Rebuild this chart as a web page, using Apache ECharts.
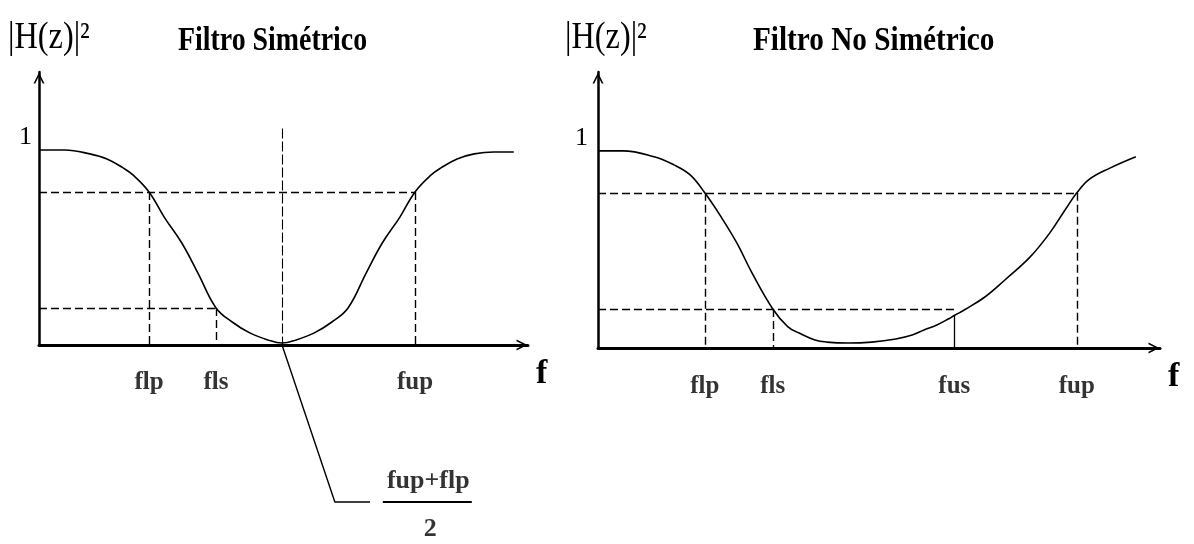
<!DOCTYPE html>
<html>
<head>
<meta charset="utf-8">
<script src="https://cdn.jsdelivr.net/npm/echarts@6/dist/echarts.min.js"></script>
<style>
  html, body { margin: 0; padding: 0; background: #fff; }
  #chart { width: 1194px; height: 544px; }
</style>
</head>
<body>
<div id="chart"></div>
<script>
// |H(f)|^2 of the symmetric band-stop filter (f in relative units 0..100)
const symF = [0, 5.3, 10.4, 13.9, 17.2, 19.2, 22.5, 25.6, 29.2, 32.5, 36.2, 39.5, 43.1, 46.8, 49.7,
              52.6, 56.3, 59.9, 63.2, 66.9, 70.2, 73.8, 76.9, 80.2, 82.2, 85.5, 89.0, 93.0, 97.1];
const symH = [1.0, 1.0, 0.98, 0.954, 0.908, 0.872, 0.785, 0.656, 0.523, 0.369, 0.19, 0.118, 0.062, 0.026, 0.01,
              0.026, 0.062, 0.118, 0.19, 0.369, 0.523, 0.656, 0.785, 0.872, 0.908, 0.954, 0.98, 0.99, 0.99];

// |H(f)|^2 of the non-symmetric band-stop filter
const asymF = [0, 4.4, 10.0, 13.5, 16.4, 19.0, 21.9, 24.7, 27.4, 31.1, 33.8, 35.8, 38.6, 40.7, 44.5, 48.7,
               53.0, 55.9, 58.0, 60.3, 62.5, 63.4, 65.3, 68.9, 72.4, 76.9, 80.4, 83.1, 85.2, 87.4, 90.9, 95.7];
const asymH = [1.0, 1.0, 0.97, 0.929, 0.878, 0.787, 0.665, 0.533, 0.381, 0.198, 0.107, 0.076, 0.041, 0.03, 0.025, 0.03,
               0.046, 0.066, 0.091, 0.117, 0.15, 0.165, 0.195, 0.26, 0.345, 0.462, 0.584, 0.70, 0.787, 0.855, 0.91, 0.97];

// band edge frequencies and their names
const symEdgeNames = ['flp', 'fls', 'fup'];
const symEdgeF = [22.5, 36.2, 76.9];
const asymEdgeNames = ['flp', 'fls', 'fus', 'fup'];
const asymEdgeF = [19.0, 31.1, 63.4, 85.2];

// passband / stopband levels [pass, stop]
const symLevels = [0.785, 0.19];
const asymLevels = [0.787, 0.198];
const asymFusH = 0.165;      // |H|^2 at fus
const centerLineTop = 1.11;  // top of the (fup+flp)/2 marker

const chart = echarts.init(document.getElementById('chart'), null, { renderer: 'canvas' });

const INK = '#000';
const SERIF = '"Liberation Serif", "DejaVu Serif", serif';
const arrowPath = 'path://M0,10 L5,0 L10,10 L8.4,10 L5,3.2 L1.6,10 Z';
const dash = { color: INK, width: 1.4, type: [8, 4] };

function seg(a, b, style) {
  return [{ coord: a, lineStyle: style }, { coord: b }];
}

const [sFlp, sFls, sFup] = symEdgeF;
const sCenter = (sFlp + sFup) / 2;
const [aFlp, aFls, aFus, aFup] = asymEdgeF;

function axesFor(idx, labelMargin, xAxisWidth) {
  return {
    x: {
      type: 'value', gridIndex: idx, min: 0, max: 100,
      axisLine: { lineStyle: { color: INK, width: xAxisWidth }, symbol: ['none', arrowPath],
                  symbolSize: [11, 15], symbolOffset: [0, -6] },
      axisTick: { show: false }, axisLabel: { show: false }, splitLine: { show: false },
      name: 'f', nameLocation: 'end', nameGap: 8,
      nameTextStyle: { fontFamily: SERIF, fontWeight: 'bold', fontSize: 34, color: INK,
                       verticalAlign: 'top', padding: [12, 0, 0, 0] }
    },
    y: {
      type: 'value', gridIndex: idx, min: 0, max: 1.4, interval: 0.2,
      axisLine: { show: true, lineStyle: { color: INK, width: 2.5 }, symbol: ['none', arrowPath],
                  symbolSize: [11, 15], symbolOffset: [0, -6] },
      axisTick: { show: false }, splitLine: { show: false },
      axisLabel: {
        margin: labelMargin, fontFamily: SERIF, fontSize: 26, color: INK,
        verticalAlign: 'bottom', lineHeight: 26,
        formatter: v => (Math.abs(v - 1) < 1e-6 ? '1' : '')
      }
    }
  };
}

const A0 = axesFor(0, 7, 3);
const A1 = axesFor(1, 10, 3);

function tickLabels(idx, names, fs, dy) {
  return {
    type: 'scatter', xAxisIndex: idx, yAxisIndex: idx, clip: false, silent: true,
    symbolSize: 1, itemStyle: { color: 'rgba(0,0,0,0)' },
    data: names.map((n, i) => ({ name: n, value: [fs[i], 0] })),
    label: {
      show: true, position: 'inside', offset: [0, dy], formatter: '{b}',
      fontFamily: SERIF, fontWeight: 'bold', fontSize: 25, color: INK
    },
    z: 5
  };
}

const option = {
  animation: false,
  backgroundColor: '#fff',
  grid: [
    { left: 39, top: 72, width: 489, height: 273 },
    { left: 598, top: 72, width: 562, height: 276 }
  ],
  xAxis: [A0.x, A1.x],
  yAxis: [A0.y, A1.y],
  graphic: [
    { type: 'text', x: 8, y: 38, scaleX: 0.85,
      style: { text: '|H(z)|²', font: '38px ' + SERIF, fill: INK, verticalAlign: 'middle' } },
    { type: 'text', x: 178, y: 41, scaleX: 0.82,
      style: { text: 'Filtro Simétrico', font: 'bold 34px ' + SERIF, fill: INK, verticalAlign: 'middle' } },
    { type: 'text', x: 565, y: 38, scaleX: 0.85,
      style: { text: '|H(z)|²', font: '38px ' + SERIF, fill: INK, verticalAlign: 'middle' } },
    { type: 'text', x: 753, y: 41, scaleX: 0.86,
      style: { text: 'Filtro No Simétrico', font: 'bold 34px ' + SERIF, fill: INK, verticalAlign: 'middle' } }
  ],
  series: [
    {
      name: 'simétrico', type: 'line', xAxisIndex: 0, yAxisIndex: 0,
      data: symF.map((f, i) => [f, symH[i]]),
      smooth: 0.4, showSymbol: false, silent: true,
      lineStyle: { color: INK, width: 1.6 },
      markLine: {
        silent: true, symbol: ['none', 'none'], label: { show: false }, lineStyle: dash,
        data: [
          seg([0, symLevels[0]], [sFup, symLevels[0]], dash),
          seg([0, symLevels[1]], [sFls, symLevels[1]], dash),
          seg([sFlp, symLevels[0]], [sFlp, 0], dash),
          seg([sFls, symLevels[1]], [sFls, 0], dash),
          seg([sFup, symLevels[0]], [sFup, 0], dash),
          seg([sCenter, centerLineTop], [sCenter, 0], { color: INK, width: 1.1, type: [10, 3] })
        ]
      }
    },
    {
      name: 'no simétrico', type: 'line', xAxisIndex: 1, yAxisIndex: 1,
      data: asymF.map((f, i) => [f, asymH[i]]),
      smooth: 0.4, showSymbol: false, silent: true,
      lineStyle: { color: INK, width: 1.6 },
      markLine: {
        silent: true, symbol: ['none', 'none'], label: { show: false }, lineStyle: dash,
        data: [
          seg([0, asymLevels[0]], [aFup, asymLevels[0]], dash),
          seg([0, asymLevels[1]], [aFus, asymLevels[1]], dash),
          seg([aFlp, asymLevels[0]], [aFlp, 0], dash),
          seg([aFls, asymLevels[1]], [aFls, 0], dash),
          seg([aFup, asymLevels[0]], [aFup, 0], dash),
          seg([aFus, asymFusH], [aFus, 0], { color: INK, width: 1.3, type: 'solid' })
        ]
      }
    },
    // leader from the centre frequency to its label
    {
      type: 'line', xAxisIndex: 0, yAxisIndex: 0, clip: false, silent: true, showSymbol: false,
      data: [[sCenter, 0], [60.5, -0.805], [67.7, -0.805]],
      lineStyle: { color: INK, width: 1.4 }
    },
    // fraction bar of (fup+flp)/2
    {
      type: 'line', xAxisIndex: 0, yAxisIndex: 0, clip: false, silent: true, showSymbol: false,
      data: [[70.3, -0.805], [88.5, -0.805]],
      lineStyle: { color: INK, width: 2 }
    },
    tickLabels(0, symEdgeNames, symEdgeF, 38),
    tickLabels(1, asymEdgeNames, asymEdgeF, 39),
    {
      type: 'scatter', xAxisIndex: 0, yAxisIndex: 0, clip: false, silent: true,
      symbolSize: 1, itemStyle: { color: 'rgba(0,0,0,0)' },
      data: [{ name: 'fup+flp', value: [79.6, -0.70] }, { name: '2', value: [80.0, -0.944] }],
      label: {
        show: true, position: 'inside', formatter: '{b}',
        fontFamily: SERIF, fontWeight: 'bold', fontSize: 26, color: INK
      }
    }
  ]
};

chart.setOption(option);
</script>
</body>
</html>
